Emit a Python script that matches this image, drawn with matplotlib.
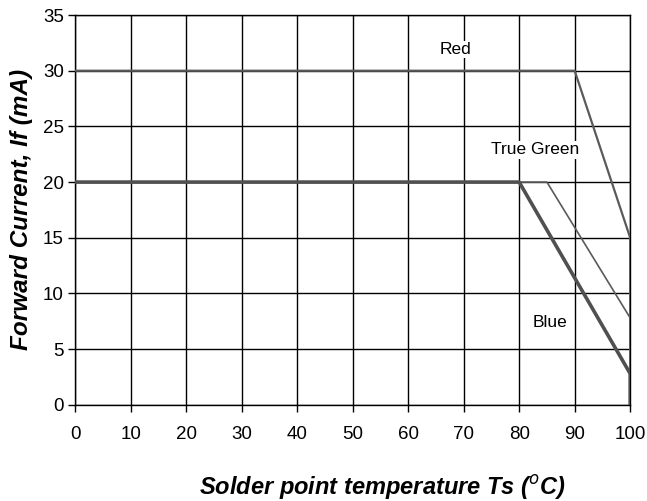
import matplotlib.pyplot as plt

plt.rcParams['font.family'] = ['Liberation Sans', 'DejaVu Sans']

# derating curves: temperature (C) vs forward current (mA)
red_x = [0, 90, 100, 100]
red_y = [30, 30, 15, 0]
green_x = [0, 85, 100, 100]
green_y = [20, 20, 7.8, 0]
blue_x = [0, 80, 100, 100]
blue_y = [20, 20, 2.8, 0]

xticks = [0, 10, 20, 30, 40, 50, 60, 70, 80, 90, 100]
yticks = [0, 5, 10, 15, 20, 25, 30, 35]

fig = plt.figure(figsize=(6.47, 5.01), dpi=100)
ax = fig.add_axes([0.116, 0.192, 0.858, 0.778])

ax.plot(red_x, red_y, color="#5a5a5a", lw=1.6, zorder=3)
ax.plot(green_x, green_y, color="#5a5a5a", lw=1.2, zorder=3)
ax.plot(blue_x, blue_y, color="#505050", lw=2.6, zorder=4)

box = dict(facecolor="white", edgecolor="none", pad=1)
ax.text(68.5, 31.9, "Red", ha="center", va="center", fontsize=12.5, bbox=box, zorder=5)
ax.text(82.9, 22.9, "True Green", ha="center", va="center", fontsize=12.5, bbox=box, zorder=5)
ax.text(85.6, 7.4, "Blue", ha="center", va="center", fontsize=12.5, bbox=box, zorder=5)

ax.set_xlim(0, 100)
ax.set_ylim(0, 35)
ax.set_xticks(xticks)
ax.set_yticks(yticks)
ax.grid(True, color="black", lw=1)
ax.set_axisbelow(True)
for s in ax.spines.values():
    s.set_linewidth(1)
ax.tick_params(direction="out", length=5, width=1, labelsize=13.5, pad=10)
ax.tick_params(axis="y", pad=3)

ax.set_xlabel(r"Solder point temperature Ts ($^{o}$C)", fontsize=17, fontweight="bold",
              style="italic")
ax.xaxis.set_label_coords(0.553, -0.175)
ax.set_ylabel("Forward Current, If (mA)", fontsize=17.5, fontweight="bold",
              style="italic", labelpad=7)

fig.savefig("out.png", dpi=100)
